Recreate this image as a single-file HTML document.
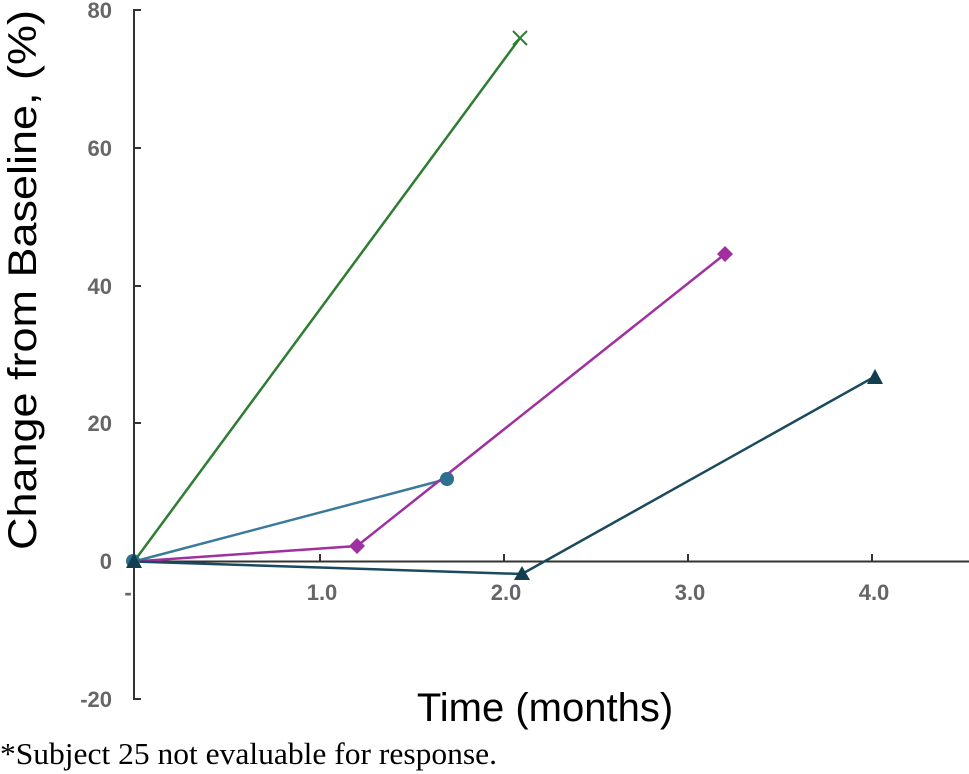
<!DOCTYPE html>
<html><head><style>body{margin:0;background:#fff}</style></head><body>
<svg width="969" height="774" xmlns="http://www.w3.org/2000/svg" style="display:block">
<g stroke="#333" stroke-width="2" fill="none">
<path d="M141 10 H134 V699 H141"/>
<path d="M134 148 H141 M134 286 H141 M134 423 H141"/>
<path d="M134 561.5 H969"/>
<path d="M320 561.5 V554 M504 561.5 V554 M688 561.5 V554 M872 561.5 V554"/>
</g>
<g font-family="Liberation Sans, sans-serif" font-weight="bold" font-size="22" fill="#666" text-anchor="end">
<text x="112" y="18">80</text><text x="112" y="156">60</text><text x="112" y="294">40</text>
<text x="112" y="431">20</text><text x="112" y="569">0</text><text x="112" y="707">-20</text>
</g>
<g font-family="Liberation Sans, sans-serif" font-weight="bold" font-size="22" fill="#666" text-anchor="middle">
<text x="128" y="600">-</text><text x="322" y="600">1.0</text><text x="506" y="600">2.0</text>
<text x="690" y="600">3.0</text><text x="874" y="600">4.0</text>
</g>
<text transform="translate(36,280) rotate(-90)" font-family="Liberation Sans, sans-serif" font-size="40" text-anchor="middle" textLength="540" lengthAdjust="spacingAndGlyphs" fill="#000">Change from Baseline, (%)</text>
<text x="545" y="721" font-family="Liberation Sans, sans-serif" font-size="40" text-anchor="middle" fill="#000">Time (months)</text>
<text x="0" y="764" font-family="Liberation Serif, serif" font-size="31" textLength="497" lengthAdjust="spacingAndGlyphs" fill="#000">*Subject 25 not evaluable for response.</text>
<g fill="none" stroke-width="2.5">
<path d="M134 561.5 L520 38" stroke="#2e7d32"/>
<path d="M134 561.5 L447 479" stroke="#3a7a9a"/>
<path d="M134 561.5 L357 546 L725 254" stroke="#a030a0"/>
<path d="M134 561.5 L522 574 L874 377" stroke="#1a4a5e"/>
</g>
<path d="M513 31 L527 45 M527 31 L513 45" stroke="#2e7d32" stroke-width="2"/>
<circle cx="447" cy="479" r="7" fill="#2f6f8f"/>
<circle cx="133" cy="561" r="7" fill="#2f6f8f"/>
<path d="M357 538 L365 546 L357 554 L349 546Z" fill="#a030a0"/>
<path d="M725 246 L733 254 L725 262 L717 254Z" fill="#a030a0"/>
<path d="M134 553 L142 568 L126 568Z" fill="#123e50"/>
<path d="M522 566 L530 580 L514 580Z" fill="#123e50"/>
<path d="M875 369 L883 384 L867 384Z" fill="#123e50"/>
</svg>
</body></html>
